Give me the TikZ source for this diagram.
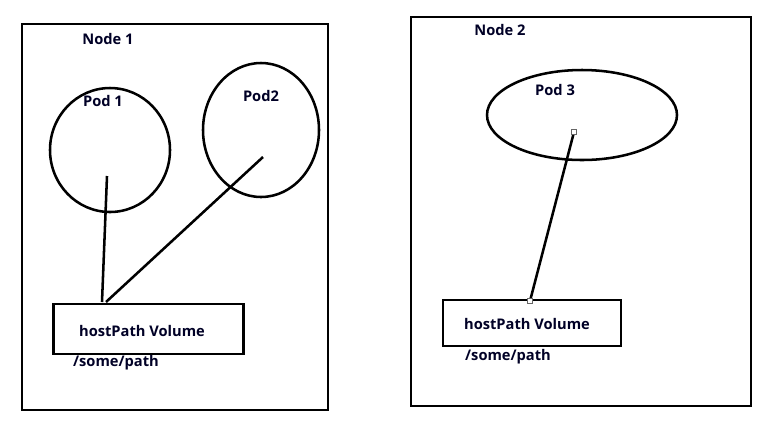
\documentclass[tikz,border=0pt]{standalone}
\usepackage{fontspec}
\setmainfont{Open Sans}
\begin{document}
\begin{tikzpicture}[x=0.75pt,y=-0.75pt,
  frame/.style={draw=black,line width=2.2pt},
  pod/.style={draw=black,line width=1.9pt},
  vol/.style={draw=black,line width=2.2pt,fill=white},
  lbl/.style={font=\bfseries\fontsize{11}{13}\selectfont,inner sep=0pt,text=black!85!blue},
  link/.style={draw=black,line width=1.9pt},
  handle/.style={draw=black!60,fill=white,line width=0.5pt,minimum size=3.5pt,inner sep=0pt}]
\useasboundingbox[fill=white] (0,0) rectangle (770,430);
% Node 1
\draw[frame] (22,24) rectangle (328,410);
\node[lbl] (n1) at (108,39) {Node 1};
\draw[pod] (110,150) ellipse [x radius=60, y radius=62];
\node[lbl] (p1) at (103,101) {Pod 1};
\draw[pod] (261,130) ellipse [x radius=58, y radius=67];
\node[lbl] (p2) at (261,96) {Pod2};
\node[vol,minimum width=190*0.75pt,minimum height=50*0.75pt,inner sep=0pt] (v1) at (148.5,329) {};
\node[lbl] (v1t) at (142,331) {hostPath Volume};
\node[lbl] (v1p) at (116,363) {/some/path};
\coordinate (c1) at (107,176);
\coordinate (c2) at (263,157);
\coordinate (v1a) at (102,302);
\coordinate (v1b) at (106,302);
\draw[link] (c1) -- (v1a);
\draw[link] (c2) -- (v1b);
% Node 2
\draw[frame] (411,17) rectangle (751,406);
\node[lbl] (n2) at (500,30) {Node 2};
\draw[pod] (582,115) ellipse [x radius=95, y radius=45];
\node[lbl] (p3) at (555,90) {Pod 3};
\node[vol,minimum width=178*0.75pt,minimum height=46*0.75pt,inner sep=0pt] (v2) at (532,323) {};
\node[lbl] (v2t) at (527,324) {hostPath Volume};
\node[lbl] (v2p) at (508,357) {/some/path};
\coordinate (c3) at (574,132);
\coordinate (v2a) at (530,301);
\draw[link] (c3) -- (v2a);
\node[handle] (h1) at (c3) {};
\node[handle] (h2) at (v2a) {};
\end{tikzpicture}
\end{document}
